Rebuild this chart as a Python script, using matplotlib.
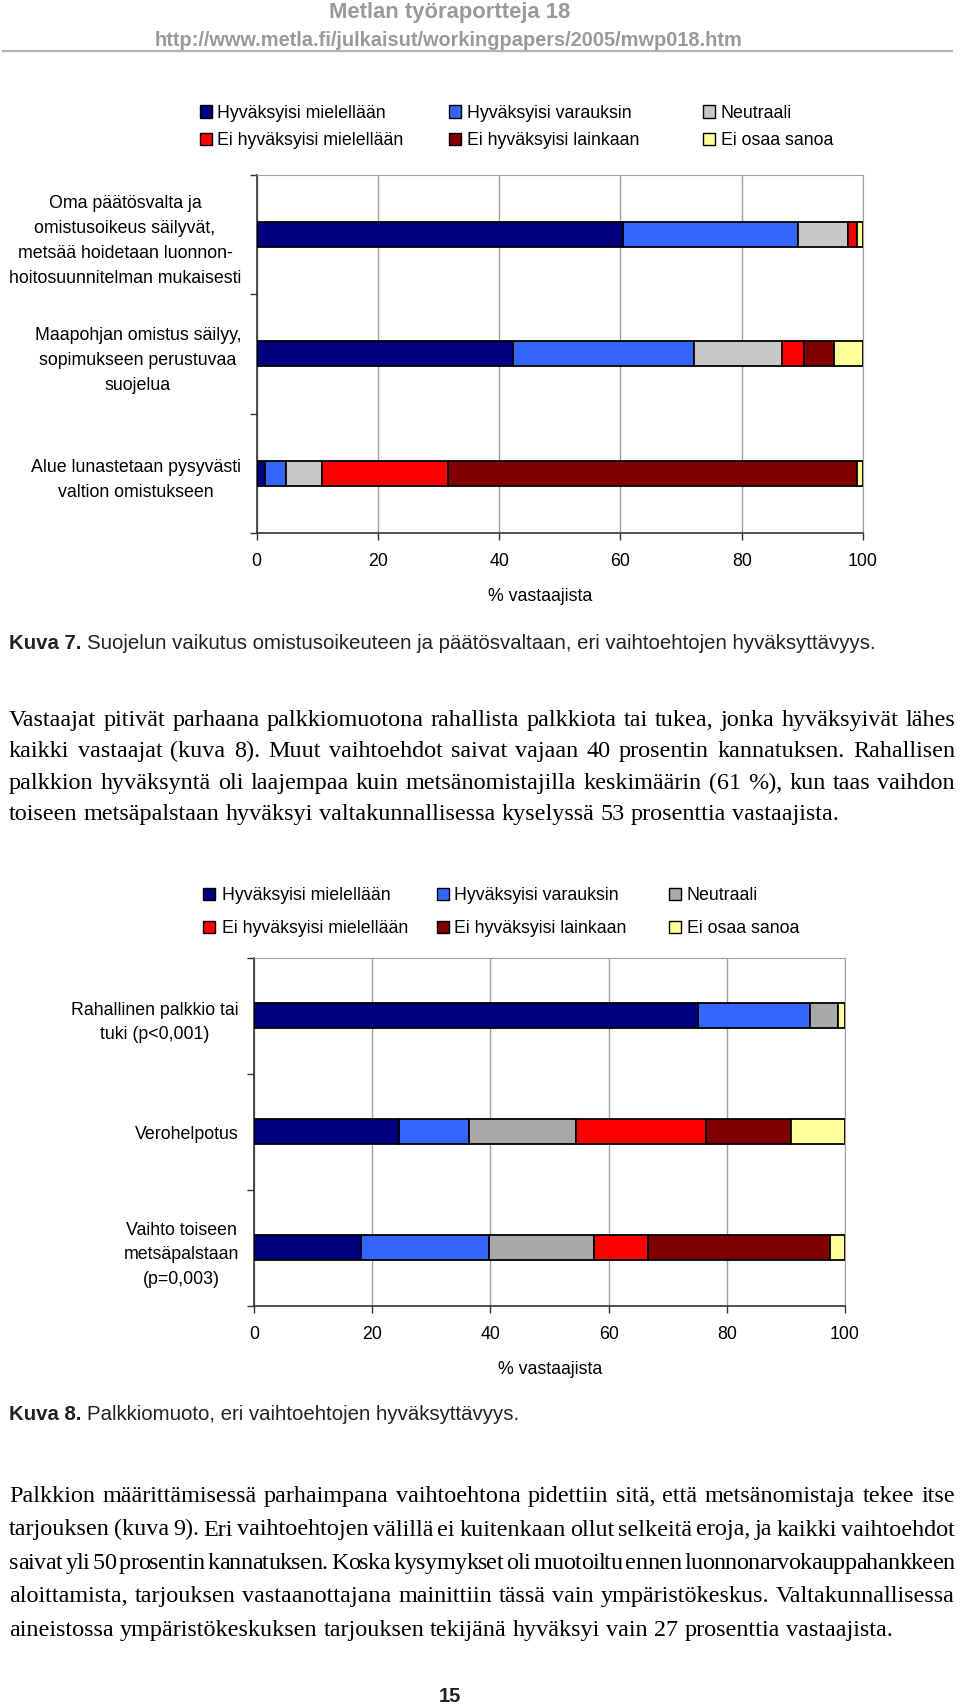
import matplotlib
matplotlib.use("Agg")
import matplotlib.pyplot as plt
from matplotlib.patches import Rectangle
from matplotlib.lines import Line2D

W, H = 960, 1706
sans = "Liberation Sans"
serif = "Liberation Serif"

series = ["Hyväksyisi mielellään", "Hyväksyisi varauksin", "Neutraali",
          "Ei hyväksyisi mielellään", "Ei hyväksyisi lainkaan", "Ei osaa sanoa"]

# Kuva 7 (% vastaajista, series order as above)
cats7 = ["Oma päätösvalta ja\nomistusoikeus säilyvät,\nmetsää hoidetaan luonnon-\nhoitosuunnitelman mukaisesti",
         "Maapohjan omistus säilyy,\nsopimukseen perustuvaa\nsuojelua",
         "Alue lunastetaan pysyvästi\nvaltion omistukseen"]
oma = [60.4, 28.9, 8.3, 1.4, 0.0, 1.0]
maapohja = [42.3, 29.9, 14.5, 3.5, 5.0, 4.8]
lunastus = [1.4, 3.4, 6.0, 20.7, 67.5, 1.0]

# Kuva 8
cats8 = ["Rahallinen palkkio tai\ntuki (p<0,001)",
         "Verohelpotus",
         "Vaihto toiseen\nmetsäpalstaan\n(p=0,003)"]
rahallinen = [75.1, 18.9, 4.8, 0.0, 0.0, 1.2]
vero = [24.6, 11.8, 18.0, 22.1, 14.4, 9.1]
vaihto = [18.1, 21.7, 17.7, 9.1, 30.8, 2.6]

xticks = [0, 20, 40, 60, 80, 100]

colors7 = ["#000080", "#3366ff", "#c8c8c8", "#ff0000", "#800000", "#ffff99"]
colors8 = ["#000080", "#3366ff", "#a9a9a9", "#ff0000", "#800000", "#ffff99"]

para1 = ["Vastaajat pitivät parhaana palkkiomuotona rahallista palkkiota tai tukea, jonka hyväksyivät lähes",
         "kaikki vastaajat (kuva 8). Muut vaihtoehdot saivat vajaan 40 prosentin kannatuksen. Rahallisen",
         "palkkion hyväksyntä oli laajempaa kuin metsänomistajilla keskimäärin (61 %), kun taas vaihdon",
         "toiseen metsäpalstaan hyväksyi valtakunnallisessa kyselyssä 53 prosenttia vastaajista."]
para2 = ["Palkkion määrittämisessä parhaimpana vaihtoehtona pidettiin sitä, että metsänomistaja tekee itse",
         "tarjouksen (kuva 9). Eri vaihtoehtojen välillä ei kuitenkaan ollut selkeitä eroja, ja kaikki vaihtoehdot",
         "saivat yli 50 prosentin kannatuksen. Koska kysymykset oli muotoiltu ennen luonnonarvokauppahankkeen",
         "aloittamista, tarjouksen vastaanottajana mainittiin tässä vain ympäristökeskus. Valtakunnallisessa",
         "aineistossa ympäristökeskuksen tarjouksen tekijänä hyväksyi vain 27 prosenttia vastaajista."]

fig = plt.figure(figsize=(W / 100, H / 100), dpi=100)
r = fig.canvas.get_renderer()


def fx(px):
    return px / W


def fy(py):
    return 1 - py / H


def stacked(box, cats, rows, colors, bar_h):
    left, top, right, bottom = box
    ax = fig.add_axes([fx(left), fy(bottom), (right - left) / W, (bottom - top) / H])
    y = list(range(len(cats)))
    start = [0.0] * len(cats)
    for j in range(len(series)):
        v = [row[j] for row in rows]
        ax.barh(y, v, left=start, height=bar_h, color=colors[j],
                edgecolor="black", linewidth=1.3, zorder=3)
        start = [a + b for a, b in zip(start, v)]
    ax.set_xlim(0, 100)
    ax.set_ylim(len(cats) - 0.5, -0.5)
    ax.set_xticks(xticks)
    ax.set_xticklabels([str(t) for t in xticks], fontsize=12.8, family=sans)
    ax.set_yticks(y)
    ax.set_yticklabels(cats, fontsize=12.8, family=sans,
                       multialignment="center", linespacing=1.6)
    ax.set_yticks([i - 0.5 for i in range(len(cats) + 1)], minor=True)
    ax.tick_params(axis="y", which="major", length=0, pad=11)
    ax.tick_params(axis="y", which="minor", length=5, width=1, color="#333333")
    ax.tick_params(axis="x", length=5, width=1, color="#333333", pad=9)
    ax.grid(axis="x", color="#a0a0a0", linewidth=1)
    ax.set_axisbelow(True)
    for s in ["top", "right"]:
        ax.spines[s].set_color("#a0a0a0")
    for s in ["left", "bottom"]:
        ax.spines[s].set_color("#333333")
        ax.spines[s].set_linewidth(1.2)
    return ax


def legend(colors, mx, tx, baselines):
    for i, name in enumerate(series):
        row, col = divmod(i, 3)
        b = baselines[row]
        fig.patches.append(Rectangle((fx(mx[col]), fy(b + 1)), 12 / W, 12.5 / H,
                                     transform=fig.transFigure, facecolor=colors[i],
                                     edgecolor="black", linewidth=1))
        fig.text(fx(tx[col]), fy(b), name, fontsize=12.8, family=sans, va="baseline")


def caption(b, bold, rest):
    t = fig.text(fx(9), fy(b), bold, fontsize=14.7, family=sans, weight="bold",
                 va="baseline", color="#222222")
    x1 = t.get_window_extent(r).x1 + 5.5
    fig.text(x1 / W, fy(b), rest, fontsize=14.7, family=sans, va="baseline",
             color="#222222")


def justified(lines, b0, step, size=17.4, left=9, right=955):
    em = size * 100 / 72
    for k, line in enumerate(lines):
        b = b0 + k * step
        words = line.split()
        arts = [fig.text(0, fy(b), w, fontsize=size, family=serif, va="baseline")
                for w in words]
        widths = [a.get_window_extent(r).width for a in arts]
        if k == len(lines) - 1:
            gap = 0.25 * em
        else:
            gap = (right - left - sum(widths)) / (len(words) - 1)
        if gap >= 0.08 * em:
            x = left
            for a, w in zip(arts, widths):
                a.set_x(x / W)
                x += w + gap
            continue
        # overfull line: tighten letter spacing like the typeset original
        for a in arts:
            a.remove()
        gap = 0.12 * em
        chars = [[fig.text(0, fy(b), c, fontsize=size, family=serif, va="baseline")
                  for c in w] for w in words]
        cw = [[c.get_window_extent(r).width for c in w] for w in chars]
        n_inner = sum(len(w) - 1 for w in words)
        track = (right - left - gap * (len(words) - 1) - sum(map(sum, cw))) / n_inner
        x = left
        for w, ws in zip(chars, cw):
            for c, cwid in zip(w, ws):
                c.set_x(x / W)
                x += cwid + track
            x += gap - track


# page header
fig.text(fx(450), fy(18), "Metlan työraportteja 18", fontsize=15.8, family=sans,
         weight="bold", color="#9a9a9a", ha="center", va="baseline")
fig.text(fx(449), fy(46), "http://www.metla.fi/julkaisut/workingpapers/2005/mwp018.htm",
         fontsize=14.4, family=sans, weight="bold", color="#9a9a9a", ha="center",
         va="baseline")
fig.lines.append(Line2D([fx(3), fx(952)], [fy(52), fy(52)], transform=fig.transFigure,
                        color="#b4b4b4", linewidth=1.6))

# Kuva 7
legend(colors7, [200, 449, 703], [217, 467, 721], [117.5, 145])
stacked((256.5, 175.5, 863, 534), cats7, [oma, maapohja, lunastus], colors7, 0.21)
fig.text(fx(540), fy(601), "% vastaajista", fontsize=12.8, family=sans, ha="center",
         va="baseline")
caption(649, "Kuva 7.", "Suojelun vaikutus omistusoikeuteen ja päätösvaltaan, eri vaihtoehtojen hyväksyttävyys.")

justified(para1, 726, 31.3)

# Kuva 8
legend(colors8, [203, 437, 669], [222, 454, 687], [900, 933])
stacked((254, 958.5, 845, 1307), cats8, [rahallinen, vero, vaihto], colors8, 0.215)
fig.text(fx(550), fy(1374), "% vastaajista", fontsize=12.8, family=sans, ha="center",
         va="baseline")
caption(1420, "Kuva 8.", "Palkkiomuoto, eri vaihtoehtojen hyväksyttävyys.")

justified(para2, 1502, 33.5)

fig.text(fx(450), fy(1702), "15", fontsize=14.5, family=sans, weight="bold",
         ha="center", va="baseline", color="#222222")

fig.savefig("out.png", dpi=100)
